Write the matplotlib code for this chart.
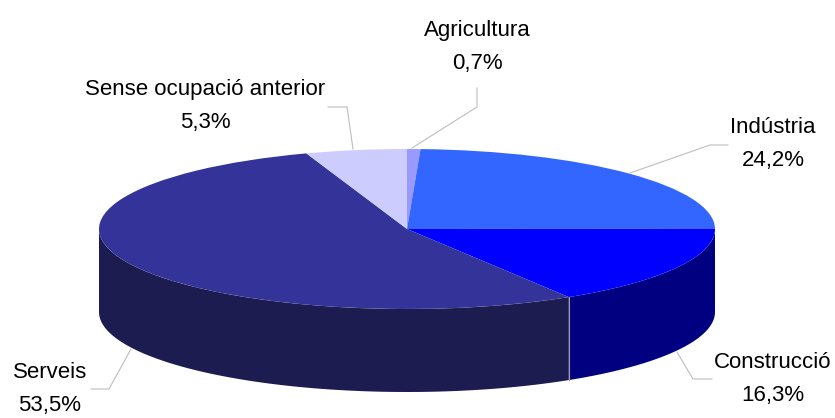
import matplotlib
matplotlib.use("Agg")
import matplotlib.pyplot as plt
import numpy as np
from matplotlib.lines import Line2D
from matplotlib.transforms import Affine2D

plt.rcParams["font.family"] = ["Liberation Sans", "DejaVu Sans"]

W, H = 835, 418
CX, CY, RX, RY, DEPTH = 407, 229, 308, 80, 83  # pie geometry, px

sectors = ["Agricultura", "Indústria", "Construcció", "Serveis", "Sense ocupació anterior"]
shares = [0.7, 24.2, 16.3, 53.5, 5.3]
labels = ["0,7%", "24,2%", "16,3%", "53,5%", "5,3%"]
top_colors = ["#9999FF", "#3366FF", "#0000FF", "#333399", "#CCCCFF"]
side_colors = ["#7A7ACC", "#264DBF", "#000080", "#1C1C50", "#A3A3CC"]

label_pos = [(477, 47), (773, 144), (773, 379), (50, 389), (205, 106)]
leaders = [
    [(412, 148), (477, 107), (477, 88)],
    [(630, 173), (710, 145), (728, 145)],
    [(677, 352), (693, 379), (712, 379)],
    [(131, 349), (109, 389), (91, 389)],
    [(353, 149), (347, 107), (328, 107)],
]

fig = plt.figure(figsize=(W / 100, H / 100), dpi=100)
ax = fig.add_axes([0, 0, 1, 1])
px = Affine2D().scale(1 / W, -1 / H).translate(0, 1) + fig.transFigure

ax.pie(shares, colors=top_colors, startangle=90, counterclock=False,
       wedgeprops={"linewidth": 0})
ax.set_aspect("auto")
ax.set_xlim(-CX / RX, (W - CX) / RX)
ax.set_ylim((CY - H) / RY, CY / RY)

# side wall: only the front half of the cylinder is visible
depth = DEPTH / RY
edges = np.cumsum([0] + shares) / np.sum(shares) * 360
for i, col in enumerate(side_colors):
    a0, a1 = max(edges[i], 90), min(edges[i + 1], 270)
    if a1 <= a0:
        continue
    t = np.radians(np.linspace(a0, a1, 200))
    x, y = np.sin(t), np.cos(t)
    ax.fill(np.r_[x, x[::-1]], np.r_[y, y[::-1] - depth], color=col, lw=0, zorder=0.5)
    if a1 < 270:
        ax.plot([x[-1], x[-1]], [y[-1], y[-1] - depth], color="#9A9AB0", lw=0.8, zorder=0.6)

for pts in leaders:
    xs, ys = zip(*pts)
    fig.add_artist(Line2D(xs, ys, transform=px, color="#BDBDBD", lw=0.8))

for name, lab, (lx, ly) in zip(sectors, labels, label_pos):
    fig.text(lx, ly, f"{name}\n{lab}", transform=px, ha="center", va="center",
             fontsize=16, linespacing=1.8, color="black")

fig.savefig("out.png", dpi=100)
